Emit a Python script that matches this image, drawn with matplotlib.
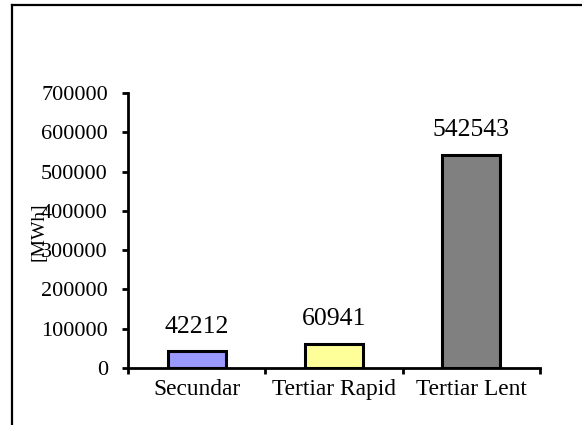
import matplotlib
matplotlib.use("Agg")
import matplotlib.pyplot as plt
from matplotlib.lines import Line2D

categories = ["Secundar", "Tertiar Rapid", "Tertiar Lent"]
values = [42212, 60941, 542543]
colors = ["#9999FF", "#FFFF99", "#808080"]
yticks = [0, 100000, 200000, 300000, 400000, 500000, 600000, 700000]

plt.rcParams['font.family'] = ['Liberation Serif', 'DejaVu Serif']

W, H = 582, 425
fig = plt.figure(figsize=(W / 100, H / 100), dpi=100)
ax = fig.add_axes([128 / W, 1 - 368 / H, (540 - 128) / W, (368 - 93) / H])

x = list(range(len(categories)))
bars = ax.bar(x, values, width=0.42, color=colors, edgecolor="black", linewidth=2.2, zorder=3)

for xi, v in zip(x, values):
    ax.annotate(str(v), xy=(xi, v), xytext=(0, 10), textcoords="offset points",
                ha="center", va="bottom", fontsize=18.5)

ax.set_xlim(-0.5, 2.5)
ax.set_ylim(0, 700000)
ax.set_yticks(yticks)
ax.set_yticklabels([str(t) for t in yticks], fontsize=16)
ax.set_xticks(x)
ax.set_xticklabels(categories, fontsize=16.8)
ax.set_xticks([-0.5, 0.5, 1.5, 2.5], minor=True)
ax.tick_params(axis="x", which="major", length=0, pad=8)
ax.tick_params(axis="x", which="minor", length=4, width=2.0, direction="out")
ax.tick_params(axis="y", which="major", length=4.5, width=2.0, direction="out", pad=10)

for s in ["top", "right"]:
    ax.spines[s].set_visible(False)
for s in ["left", "bottom"]:
    ax.spines[s].set_linewidth(2.0)

fig.text(39 / W, 1 - 232 / H, "[MWh]", rotation=90, ha="center", va="center", fontsize=14)

# outer frame (top and left edges)
fig.add_artist(Line2D([12 / W, 1.0], [1 - 5 / H, 1 - 5 / H], transform=fig.transFigure, color="black", linewidth=1.6))
fig.add_artist(Line2D([12 / W, 12 / W], [0, 1 - 5 / H], transform=fig.transFigure, color="black", linewidth=1.6))

fig.savefig("out.png", dpi=100)
